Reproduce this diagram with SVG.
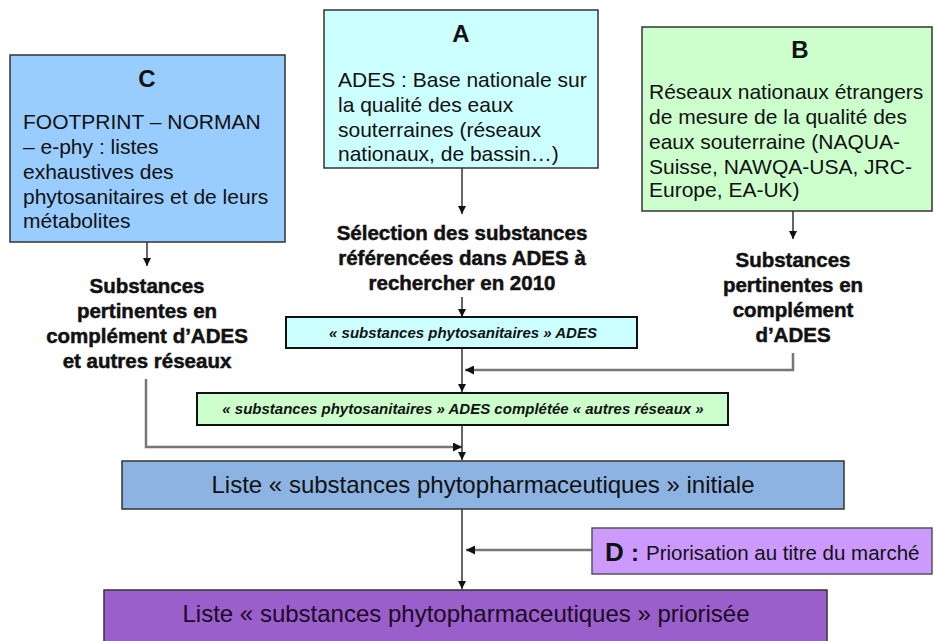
<svg xmlns="http://www.w3.org/2000/svg" width="934" height="641" viewBox="0 0 934 641">
<style>
  text { font-family: "Liberation Sans", Arial, sans-serif; fill: #111; }
  .box { stroke: #333; stroke-width: 1.5; }
  .title { font-size: 24px; font-weight: bold; text-anchor: middle; }
  .body { font-size: 21px; }
  .bold { font-size: 20.5px; font-weight: bold; text-anchor: middle; stroke: #111; stroke-width: 0.5; }
  .ital { font-size: 15px; font-weight: bold; font-style: italic; text-anchor: middle; }
  .big { font-size: 24px; text-anchor: middle; }
  .conn { fill: none; stroke: #333; stroke-width: 1.5; }
  .connG { fill: none; stroke: #777; stroke-width: 2.5; }
</style>
<defs>
  <marker id="arr" viewBox="0 0 10 10" refX="10" refY="5" markerWidth="8" markerHeight="8" markerUnits="userSpaceOnUse" orient="auto">
    <path d="M0,0 L10,5 L0,10 z" fill="#111"/>
  </marker>
  <marker id="arrB" viewBox="0 0 10 10" refX="10" refY="5" markerWidth="9" markerHeight="9" markerUnits="userSpaceOnUse" orient="auto">
    <path d="M0,0 L10,5 L0,10 z" fill="#111"/>
  </marker>
</defs>
<rect width="934" height="641" fill="#fff"/>

<g id="connectors">
  <line class="conn" x1="147" y1="242" x2="147" y2="266" marker-end="url(#arr)"/>
  <line class="conn" x1="462" y1="168" x2="462" y2="214" marker-end="url(#arr)"/>
  <line class="conn" x1="462" y1="297" x2="462" y2="317" marker-end="url(#arr)"/>
  <line class="conn" x1="793" y1="211" x2="793" y2="239" marker-end="url(#arr)"/>
  <line class="conn" x1="462" y1="348" x2="462" y2="392" marker-end="url(#arr)"/>
  <path class="connG" d="M793,353 V370 H465" marker-end="url(#arrB)"/>
  <path class="connG" d="M146,379 V447 H462" marker-end="url(#arrB)"/>
  <line class="conn" x1="462" y1="425" x2="462" y2="460" marker-end="url(#arr)"/>
  <line class="conn" x1="462" y1="509" x2="462" y2="589" marker-end="url(#arr)"/>
  <path class="connG" d="M592,550 H466" stroke-width="3.5" marker-end="url(#arrB)"/>
</g>

<g id="nodeC">
  <rect class="box" x="10" y="55" width="275" height="187" fill="#99CCFF"/>
  <text class="title" x="147" y="87">C</text>
  <text class="body" x="23" y="129">FOOTPRINT – NORMAN</text>
  <text class="body" x="23" y="154">– e-phy : listes</text>
  <text class="body" x="23" y="179">exhaustives des</text>
  <text class="body" x="23" y="204">phytosanitaires et de leurs</text>
  <text class="body" x="23" y="228">métabolites</text>
</g>

<g id="nodeA">
  <rect class="box" x="324" y="10" width="274" height="158" fill="#CCFFFF"/>
  <text class="title" x="461" y="42">A</text>
  <text class="body" x="338" y="87">ADES : Base nationale sur</text>
  <text class="body" x="338" y="112">la qualité des eaux</text>
  <text class="body" x="338" y="137">souterraines (réseaux</text>
  <text class="body" x="338" y="161">nationaux, de bassin…)</text>
</g>

<g id="nodeB">
  <rect class="box" x="642" y="27" width="290" height="184" fill="#CCFFCC"/>
  <text class="title" x="800" y="58">B</text>
  <text class="body" x="649" y="99">Réseaux nationaux étrangers</text>
  <text class="body" x="649" y="124">de mesure de la qualité des</text>
  <text class="body" x="649" y="149">eaux souterraine (NAQUA-</text>
  <text class="body" x="649" y="174">Suisse, NAWQA-USA, JRC-</text>
  <text class="body" x="649" y="197">Europe, EA-UK)</text>
</g>

<g id="textC">
  <text class="bold" x="147" y="293">Substances</text>
  <text class="bold" x="147" y="318">pertinentes en</text>
  <text class="bold" x="147" y="343">complément d’ADES</text>
  <text class="bold" x="147" y="368">et autres réseaux</text>
</g>

<g id="textA">
  <text class="bold" x="462" y="240">Sélection des substances</text>
  <text class="bold" x="462" y="265">référencées dans ADES à</text>
  <text class="bold" x="462" y="290">rechercher en 2010</text>
</g>

<g id="textB">
  <text class="bold" x="793" y="267">Substances</text>
  <text class="bold" x="793" y="292">pertinentes en</text>
  <text class="bold" x="793" y="317">complément</text>
  <text class="bold" x="793" y="342">d’ADES</text>
</g>

<g id="boxADES">
  <rect x="286" y="317" width="351" height="31" fill="#CCFFFF" stroke="#111" stroke-width="2"/>
  <text class="ital" x="463" y="338">« substances phytosanitaires » ADES</text>
</g>

<g id="boxComplete">
  <rect x="197" y="393" width="531" height="32" fill="#CCFFCC" stroke="#111" stroke-width="2"/>
  <text class="ital" x="463" y="414">« substances phytosanitaires » ADES complétée « autres réseaux »</text>
</g>

<g id="listeInitiale">
  <rect class="box" x="122" y="461" width="722" height="48" fill="#8DB3E2"/>
  <text class="big" x="483" y="493">Liste « substances phytopharmaceutiques » initiale</text>
</g>

<g id="nodeD">
  <rect x="592" y="528" width="340" height="46" fill="#CC99FF" stroke="#555" stroke-width="1.5"/>
  <text x="605" y="561" font-size="26" font-weight="bold">D</text>
  <text x="631" y="561" font-size="24" font-weight="bold">:</text>
  <text x="646" y="560" font-size="20.5">Priorisation au titre du marché</text>
</g>

<g id="listePriorisee">
  <rect class="box" x="104" y="590" width="723" height="60" fill="#9B5FCB"/>
  <text class="big" x="466" y="622" style="fill:#1a0a24">Liste « substances phytopharmaceutiques » priorisée</text>
</g>
</svg>
